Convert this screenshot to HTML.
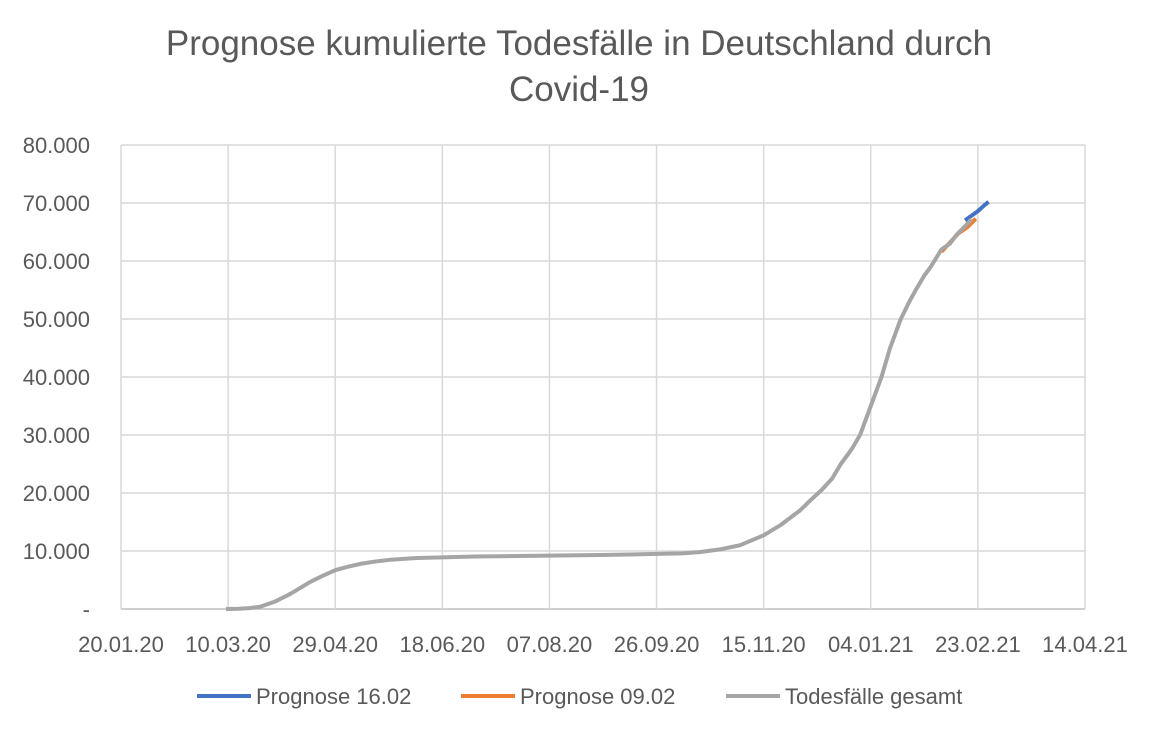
<!DOCTYPE html>
<html><head><meta charset="utf-8"><style>
body{margin:0;background:#fff;font-family:"Liberation Sans",sans-serif;}
svg text{font-family:"Liberation Sans",sans-serif;fill:#595959;}
</style></head><body>
<svg id="c" width="1157" height="734">
<text x="579" y="55" text-anchor="middle" font-size="35">Prognose kumulierte Todesfälle in Deutschland durch</text>
<text x="579" y="101" text-anchor="middle" font-size="35">Covid-19</text>
<g id="grid"></g><g id="series"></g><g id="legend"></g>
</svg>
<script>
const xTickLabels=["20.01.20","10.03.20","29.04.20","18.06.20","07.08.20","26.09.20","15.11.20","04.01.21","23.02.21","14.04.21"];
const yTicks=[0,10000,20000,30000,40000,50000,60000,70000,80000];
const yTickLabels=["-","10.000","20.000","30.000","40.000","50.000","60.000","70.000","80.000"];
// days since 20.01.20
const grayDays=[49,55,60,65,72,79,84,88,94,100,106,112,119,126,138,150,165,177,200,224,250,262,270,280,289,300,308,317,322,327,332,336,341,345,350,355,359,364,368,371,375,378,383,387,390,394,397];
const grayVals=[0,50,150,400,1300,2600,3700,4600,5700,6700,7300,7800,8200,8500,8800,8900,9050,9100,9200,9300,9500,9600,9800,10300,11000,12700,14500,17000,18800,20500,22500,25000,27500,30000,35000,40000,45000,50000,53000,55000,57500,59000,62000,63000,64500,66000,67200];
const orangeDays=[383,387,391,395,399];
const orangeVals=[61600,63200,64800,65800,67300];
const blueDays=[394,397,400,403,405];
const blueVals=[67000,67800,68600,69600,70200];
const X0=121,X1=1085,Y0=609,Y1=145;
const xs=d=>X0+(X1-X0)*d/450;
const ys=v=>Y0-(Y0-Y1)*v/80000;
const NS="http://www.w3.org/2000/svg";
const grid=document.getElementById('grid');
yTicks.forEach((v,i)=>{
  const l=document.createElementNS(NS,'line');
  l.setAttribute('x1',X0);l.setAttribute('x2',X1);l.setAttribute('y1',ys(v));l.setAttribute('y2',ys(v));
  l.setAttribute('stroke',i===0?'#bfbfbf':'#d9d9d9');l.setAttribute('stroke-width',1.5);
  
  
  grid.appendChild(l);
  const t=document.createElementNS(NS,'text');
  t.setAttribute('x',90);t.setAttribute('y',ys(v)+8);t.setAttribute('text-anchor','end');t.setAttribute('font-size','22');
  t.textContent=yTickLabels[i];
  
  
  grid.appendChild(t);
});
xTickLabels.forEach((s,i)=>{
  const x=xs(i*50);
  const l=document.createElementNS(NS,'line');
  l.setAttribute('x1',x);l.setAttribute('x2',x);l.setAttribute('y1',Y1);l.setAttribute('y2',Y0);
  l.setAttribute('stroke','#d9d9d9');l.setAttribute('stroke-width',1.5);
  
  
  grid.appendChild(l);
  const t=document.createElementNS(NS,'text');
  t.setAttribute('x',x);t.setAttribute('y',652);t.setAttribute('text-anchor','middle');t.setAttribute('font-size','22');
  t.textContent=s;
  
  
  grid.appendChild(t);
});
const ser=document.getElementById('series');
function line(days,vals,color,name){
  const p=document.createElementNS(NS,'polyline');
  p.setAttribute('points',days.map((d,i)=>xs(d)+','+ys(vals[i])).join(' '));
  p.setAttribute('fill','none');p.setAttribute('stroke',color);p.setAttribute('stroke-width',4);p.setAttribute('stroke-linejoin','round');
  
  
  ser.appendChild(p);
}
line(blueDays,blueVals,'#4472c4','series-prognose-16-02');
line(orangeDays,orangeVals,'#ed7d31','series-prognose-09-02');
line(grayDays,grayVals,'#a5a5a5','series-todesfaelle-gesamt');
const leg=document.getElementById('legend');
[["Prognose 16.02","#4472c4",197],["Prognose 09.02","#ed7d31",461],["Todesfälle gesamt","#a5a5a5",726]].forEach(e=>{
  const l=document.createElementNS(NS,'line');
  l.setAttribute('x1',e[2]);l.setAttribute('x2',e[2]+54);l.setAttribute('y1',696);l.setAttribute('y2',696);
  l.setAttribute('stroke',e[1]);l.setAttribute('stroke-width',4);
  
  
  leg.appendChild(l);
  const t=document.createElementNS(NS,'text');
  t.setAttribute('x',e[2]+59);t.setAttribute('y',704);t.setAttribute('font-size','22');
  t.textContent=e[0];
  
  
  leg.appendChild(t);
});
</script>
</body></html>
